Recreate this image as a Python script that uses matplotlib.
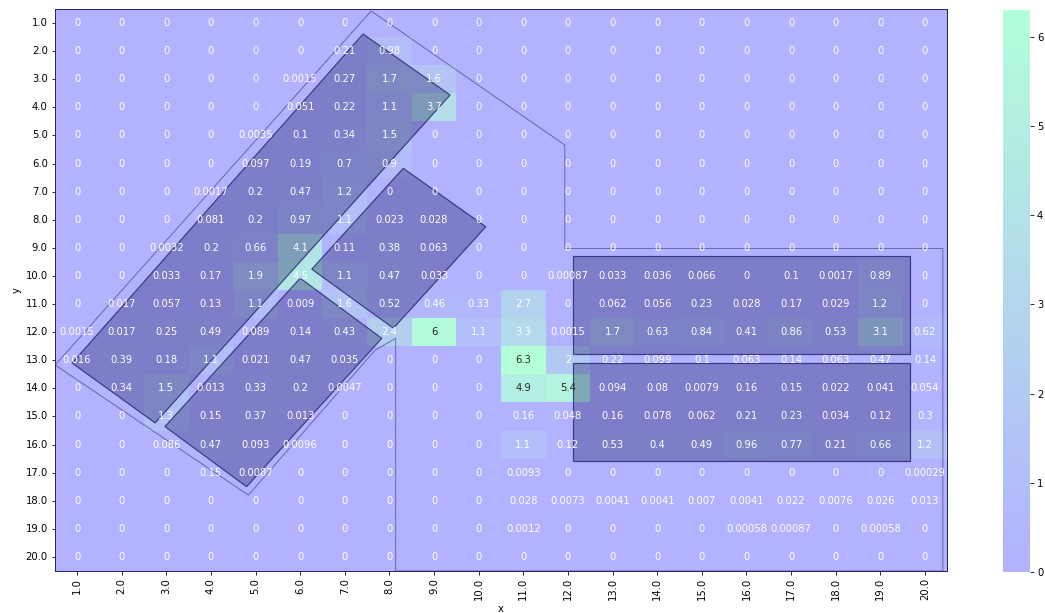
import numpy as np
import pandas as pd
import matplotlib
matplotlib.use("Agg")
import matplotlib.pyplot as plt
from matplotlib.patches import Polygon
import seaborn as sns

# ---- data (rows = y 1..20, cols = x 1..20) ----
x_labels = [float(v) for v in range(1, 21)]
y_labels = [float(v) for v in range(1, 21)]

row01 = [0]*20
row02 = [0, 0, 0, 0, 0, 0, 0.21, 0.98, 0, 0, 0, 0, 0, 0, 0, 0, 0, 0, 0, 0]
row03 = [0, 0, 0, 0, 0, 0.0015, 0.27, 1.7, 1.6, 0, 0, 0, 0, 0, 0, 0, 0, 0, 0, 0]
row04 = [0, 0, 0, 0, 0, 0.051, 0.22, 1.1, 3.7, 0, 0, 0, 0, 0, 0, 0, 0, 0, 0, 0]
row05 = [0, 0, 0, 0, 0.0035, 0.1, 0.34, 1.5, 0, 0, 0, 0, 0, 0, 0, 0, 0, 0, 0, 0]
row06 = [0, 0, 0, 0, 0.097, 0.19, 0.7, 0.9, 0, 0, 0, 0, 0, 0, 0, 0, 0, 0, 0, 0]
row07 = [0, 0, 0, 0.0017, 0.2, 0.47, 1.2, 0, 0, 0, 0, 0, 0, 0, 0, 0, 0, 0, 0, 0]
row08 = [0, 0, 0, 0.081, 0.2, 0.97, 1.1, 0.023, 0.028, 0, 0, 0, 0, 0, 0, 0, 0, 0, 0, 0]
row09 = [0, 0, 0.0032, 0.2, 0.66, 4.1, 0.11, 0.38, 0.063, 0, 0, 0, 0, 0, 0, 0, 0, 0, 0, 0]
row10 = [0, 0, 0.033, 0.17, 1.9, 4.5, 1.1, 0.47, 0.033, 0, 0, 0.00087, 0.033, 0.036,
         0.066, 0, 0.1, 0.0017, 0.89, 0]
row11 = [0, 0.017, 0.057, 0.13, 1.1, 0.009, 1.6, 0.52, 0.46, 0.33, 2.7, 0, 0.062, 0.056,
         0.23, 0.028, 0.17, 0.029, 1.2, 0]
row12 = [0.0015, 0.017, 0.25, 0.49, 0.089, 0.14, 0.43, 2.4, 6, 1.1, 3.3, 0.0015, 1.7, 0.63,
         0.84, 0.41, 0.86, 0.53, 3.1, 0.62]
row13 = [0.016, 0.39, 0.18, 1.1, 0.021, 0.47, 0.035, 0, 0, 0, 6.3, 2, 0.22, 0.099,
         0.1, 0.063, 0.14, 0.063, 0.47, 0.14]
row14 = [0, 0.34, 1.5, 0.013, 0.33, 0.2, 0.0047, 0, 0, 0, 4.9, 5.4, 0.094, 0.08,
         0.0079, 0.16, 0.15, 0.022, 0.041, 0.054]
row15 = [0, 0, 1.3, 0.15, 0.37, 0.013, 0, 0, 0, 0, 0.16, 0.048, 0.16, 0.078,
         0.062, 0.21, 0.23, 0.034, 0.12, 0.3]
row16 = [0, 0, 0.086, 0.47, 0.093, 0.0096, 0, 0, 0, 0, 1.1, 0.12, 0.53, 0.4,
         0.49, 0.96, 0.77, 0.21, 0.66, 1.2]
row17 = [0, 0, 0, 0.15, 0.0087, 0, 0, 0, 0, 0, 0.0093, 0, 0, 0, 0, 0, 0, 0, 0, 0.00029]
row18 = [0, 0, 0, 0, 0, 0, 0, 0, 0, 0, 0.028, 0.0073, 0.0041, 0.0041, 0.007, 0.0041,
         0.022, 0.0076, 0.026, 0.013]
row19 = [0, 0, 0, 0, 0, 0, 0, 0, 0, 0, 0.0012, 0, 0, 0, 0, 0.00058, 0.00087, 0, 0.00058, 0]
row20 = [0]*20

rows = [row01, row02, row03, row04, row05, row06, row07, row08, row09, row10,
        row11, row12, row13, row14, row15, row16, row17, row18, row19, row20]

# ---- overlay shapes (in heatmap cell coordinates) ----
outline_poly = [(7.09, 0.07), (11.43, 4.84), (11.43, 8.52), (19.90, 8.52), (19.90, 20.0),
                (7.64, 20.0), (7.64, 11.72), (7.18, 12.14), (4.34, 17.30), (0.01, 12.67)]
wing_upper = [(6.91, 0.89), (8.86, 3.06), (2.25, 14.73), (0.39, 12.60)]
wing_lower = [(5.50, 9.58), (7.33, 11.72), (4.30, 17.00), (2.47, 14.86)]
wing_right = [(7.81, 5.67), (9.66, 7.75), (7.59, 11.36), (5.76, 9.26)]
rect_top = [(11.61, 8.79), (19.16, 8.79), (19.16, 12.29), (11.61, 12.29)]
rect_bottom = [(11.61, 12.59), (19.16, 12.59), (19.16, 16.09), (11.61, 16.09)]

df = pd.DataFrame(np.array(rows, dtype=float), index=y_labels, columns=x_labels)

W, H, DPI = 1045, 613, 72
fig = plt.figure(figsize=(W / DPI, H / DPI), dpi=DPI)
ax = fig.add_axes([54.7 / W, (H - 571) / H, (947.3 - 54.7) / W, (571 - 9) / H])
cax = fig.add_axes([1003 / W, (H - 572) / H, 27 / W, (572 - 10) / H])

sns.heatmap(df, cmap="winter", alpha=0.3, annot=True, ax=ax, cbar_ax=cax)

dark = (0.10, 0.10, 0.40)
for verts in [wing_upper, wing_lower, wing_right, rect_top, rect_bottom]:
    ax.add_patch(Polygon(verts, closed=True, facecolor=dark + (0.35,),
                         edgecolor=dark + (0.75,), linewidth=1.2, zorder=2))
ax.add_patch(Polygon(outline_poly, closed=True, fill=False,
                     edgecolor=dark + (0.55,), linewidth=0.9, zorder=2))

for s in ax.spines.values():
    s.set_visible(True)
    s.set_color((0.15, 0.15, 0.4))
    s.set_linewidth(1.0)

ax.set_xticklabels([str(v) for v in x_labels], rotation=90)
ax.set_yticklabels([str(v) for v in y_labels], rotation=0)
ax.set_xlabel("x")
ax.set_ylabel("y")

fig.savefig("out.png", dpi=DPI)
